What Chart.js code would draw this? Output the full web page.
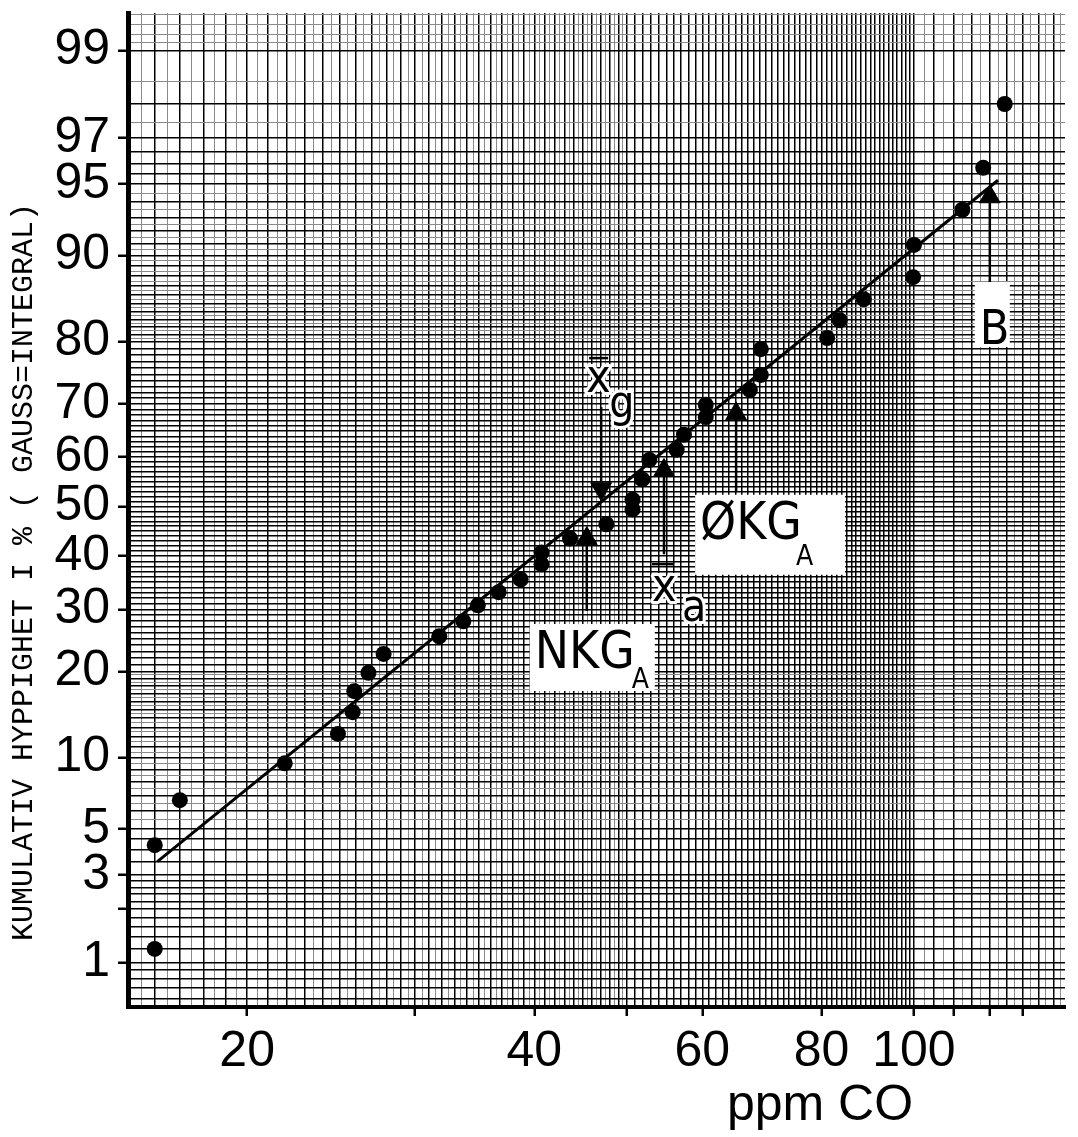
<!DOCTYPE html>
<html>
<head>
<meta charset="utf-8">
<script src="https://cdn.jsdelivr.net/npm/chart.js@4.4.1/dist/chart.umd.min.js"></script>
<style>
  html, body { margin: 0; padding: 0; background: #fff; }
  #wrap { width: 1078px; height: 1137px; }
</style>
</head>
<body>
<div id="wrap"><canvas id="chart"></canvas></div>
<script>
// uppmätta värden: ppm CO och kumulativ frekvens i %
const dotPpm = [16.0, 16.0, 17.0, 21.9, 24.9, 25.8, 25.9, 26.8, 27.8, 31.8,
  33.7, 34.9, 36.7, 38.7, 40.7, 40.7, 43.6, 47.6, 50.7, 50.7,
  51.9, 52.8, 56.4, 57.4, 60.5, 60.5, 67.3, 69.1, 69.1, 81.1,
  83.6, 88.6, 99.8, 100, 112.4, 118.2, 124.5];
const dotPct = [4.2, 1.2, 6.7, 9.5, 12.3, 14.7, 17.3, 19.8, 22.6, 25.4,
  27.9, 30.7, 33.1, 35.5, 38.4, 40.7, 43.5, 46.4, 51.4, 49.4,
  55.5, 59.4, 61.4, 64.3, 69.8, 67.6, 72.4, 74.9, 78.9, 80.5,
  82.9, 85.5, 87.9, 90.9, 93.5, 95.8, 98.0];

// anpassad linje
const fitPpm = [16.1, 122.5];
const fitPct = [3.5, 95.2];

// NKG_A, x̄g, x̄a, ØKG_A, B
const markerPpm = [45.4, 47.0, 54.7, 65.1, 120.1];
const markerPct = [43.5, 53.6, 57.3, 68.2, 94.3];
const markerTailPct = [29.7, 69.4, 40.4, 53.0, 87.4];
const markerDown = [false, true, false, false, false];

const xLabelTicks = [20, 40, 60, 80, 100];
const xTickMarks = [20, 30, 40, 50, 60, 80, 100, 110, 120, 130];
const yLabelTicks = [1, 3, 5, 10, 20, 30, 40, 50, 60, 70, 80, 90, 95, 97, 99];
const yTickMarks = [1, 2, 3, 5, 10, 20, 30, 40, 50, 60, 70, 80, 90, 95, 97, 99];

const yTitle = "KUMULATIV HYPPIGHET I % ( GAUSS=INTEGRAL)";
const xTitle = "ppm CO";

// millimeterpapperets linjer
function steps(a, b, s, dim) {
  const out = [];
  for (let v = a; v <= b + 1e-9; v += s) out.push({ v: +v.toFixed(2), dim: dim });
  return out;
}
const byValue = (p, q) => p.v - q.v;
const xGrid = [].concat(
  steps(16, 100, 1, false),
  steps(15.5, 49.5, 1, true),
  steps(105, 140, 5, false),
  steps(102.5, 142.5, 5, true)
).sort(byValue);
const yGrid = [].concat(
  steps(0.6, 1, 0.1, false),
  steps(1.2, 2.8, 0.2, false),
  steps(3, 4.5, 0.5, false),
  steps(5, 95, 1, false),
  steps(5.5, 19.5, 1, true),
  steps(80.5, 94.5, 1, true),
  steps(95.5, 96.5, 0.5, false),
  steps(97, 99, 1, false),
  [{ v: 97.5, dim: true }, { v: 98.5, dim: true }],
  steps(99.1, 99.4, 0.1, true)
).sort(byValue);

function probit(p) {
  const a = [-3.969683028665376e+01, 2.209460984245205e+02, -2.759285104469687e+02, 1.383577518672690e+02, -3.066479806614716e+01, 2.506628277459239e+00];
  const b = [-5.447609879822406e+01, 1.615858368580409e+02, -1.556989798598866e+02, 6.680131188771972e+01, -1.328068155288572e+01];
  const c = [-7.784894002430293e-03, -3.223964580411365e-01, -2.400758277161838e+00, -2.549732539343734e+00, 4.374664141464968e+00, 2.938163982698783e+00];
  const d = [7.784695709041462e-03, 3.224671290700398e-01, 2.445134137142996e+00, 3.754408661907416e+00];
  const pl = 0.02425;
  if (p < pl) {
    const q = Math.sqrt(-2 * Math.log(p));
    return (((((c[0] * q + c[1]) * q + c[2]) * q + c[3]) * q + c[4]) * q + c[5]) / ((((d[0] * q + d[1]) * q + d[2]) * q + d[3]) * q + 1);
  }
  if (p > 1 - pl) {
    const q = Math.sqrt(-2 * Math.log(1 - p));
    return -(((((c[0] * q + c[1]) * q + c[2]) * q + c[3]) * q + c[4]) * q + c[5]) / ((((d[0] * q + d[1]) * q + d[2]) * q + d[3]) * q + 1);
  }
  const q = p - 0.5, r = q * q;
  return (((((a[0] * r + a[1]) * r + a[2]) * r + a[3]) * r + a[4]) * r + a[5]) * q / (((((b[0] * r + b[1]) * r + b[2]) * r + b[3]) * r + b[4]) * r + 1);
}

function normCdf(z) {
  const t = 1 / (1 + 0.3275911 * Math.abs(z) / Math.SQRT2);
  const y = 1 - (((((1.061405429 * t - 1.453152027) * t) + 1.421413741) * t - 0.284496736) * t + 0.254829592) * t * Math.exp(-z * z / 2);
  return z >= 0 ? (1 + y) / 2 : (1 - y) / 2;
}

// sannolikhetsskala (Gauss)
class ProbitScale extends Chart.LinearScale {
  determineDataLimits() {
    this.min = this.options.min;
    this.max = this.options.max;
  }
  buildTicks() {
    return yGrid.map((g) => ({ value: g.v, dim: g.dim }));
  }
  configure() {
    super.configure();
    this._zLo = probit(this.min / 100);
    this._zHi = probit(this.max / 100);
  }
  getPixelForValue(v) {
    if (v === null || v === undefined) return NaN;
    return this.getPixelForDecimal((probit(v / 100) - this._zLo) / (this._zHi - this._zLo));
  }
  getValueForPixel(px) {
    return 100 * normCdf(this._zLo + this.getDecimalForPixel(px) * (this._zHi - this._zLo));
  }
}
ProbitScale.id = "probit";
ProbitScale.defaults = Chart.LinearScale.defaults;
Chart.register(ProbitScale);

const noteLayout = [
  { box: [-57, 13, 125, 67], parts: [{ t: "NKG", dx: -52, dy: 57, size: 51 }, { t: "A", dx: 45, dy: 77, size: 28 }] },
  { parts: [{ t: "x", dx: -15, dy: -15, size: 46 }, { t: "g", dx: 8, dy: 10, size: 44 }], bar: [-12, 7, -49] },
  { parts: [{ t: "x", dx: -12, dy: 47, size: 46 }, { t: "a", dx: 18, dy: 67, size: 44 }], bar: [-12, 10, 10] },
  { box: [-41, 3, 150, 80], parts: [{ t: "ØKG", dx: -36, dy: 47, size: 51 }, { t: "A", dx: 60, dy: 73, size: 28 }] },
  { box: [-15, 0, 35, 65], parts: [{ t: "B", dx: -10, dy: 62, size: 48 }] },
];
const noteFont = '"Liberation Sans Narrow", "DejaVu Sans Condensed", sans-serif';

const notesPlugin = {
  id: "notes",
  afterDatasetsDraw(chart) {
    const ctx = chart.ctx;
    const xs = chart.scales.x, ys = chart.scales.y;
    ctx.save();
    noteLayout.forEach((n, i) => {
      const ax = xs.getPixelForValue(markerPpm[i]);
      const ay = ys.getPixelForValue(markerTailPct[i]);
      if (n.box) {
        ctx.fillStyle = "#fff";
        ctx.fillRect(ax + n.box[0], ay + n.box[1], n.box[2], n.box[3]);
      }
      ctx.textAlign = "left";
      ctx.textBaseline = "alphabetic";
      n.parts.forEach((p) => {
        ctx.font = p.size + "px " + noteFont;
        if (!n.box) {
          ctx.strokeStyle = "#fff";
          ctx.lineWidth = 6;
          ctx.lineJoin = "round";
          ctx.strokeText(p.t, ax + p.dx, ay + p.dy);
        }
        ctx.fillStyle = "#000";
        ctx.fillText(p.t, ax + p.dx, ay + p.dy);
      });
      if (n.bar) {
        ctx.strokeStyle = "#000";
        ctx.lineWidth = 2.5;
        ctx.beginPath();
        ctx.moveTo(ax + n.bar[0], ay + n.bar[2]);
        ctx.lineTo(ax + n.bar[1], ay + n.bar[2]);
        ctx.stroke();
      }
    });
    ctx.restore();
  },
  afterDraw(chart) {
    const ctx = chart.ctx;
    ctx.save();
    ctx.fillStyle = "#000";
    ctx.font = '30px "Liberation Mono", monospace';
    ctx.textAlign = "center";
    ctx.textBaseline = "middle";
    ctx.translate(24, 572);
    ctx.rotate(-Math.PI / 2);
    ctx.fillText(yTitle, 0, 0);
    ctx.restore();
    ctx.save();
    ctx.fillStyle = "#000";
    ctx.font = '50px "Liberation Sans", sans-serif';
    ctx.textAlign = "center";
    ctx.textBaseline = "alphabetic";
    ctx.fillText(xTitle, 820, 1120);
    ctx.restore();
  },
};

const gridColor = (c) => (c.tick && c.tick.dim ? "#8a8a8a" : "#000");
const gridWidth = (c) => (c.tick && c.tick.dim ? 1 : 1.5);

new Chart(document.getElementById("chart"), {
  type: "scatter",
  data: {
    datasets: [
      {
        data: markerPpm.map((x, i) => ({ x: x, y: markerPct[i] })),
        pointStyle: "triangle",
        pointRotation: markerDown.map((d) => (d ? 180 : 0)),
        pointRadius: 12,
        backgroundColor: "#000",
        borderColor: "#000",
        borderWidth: 1,
      },
      {
        data: dotPpm.map((x, i) => ({ x: x, y: dotPct[i] })),
        pointRadius: 8,
        backgroundColor: "#000",
        borderWidth: 0,
      },
      ...markerPpm.map((x, i) => ({
        data: [{ x: x, y: markerPct[i] }, { x: x, y: markerTailPct[i] }],
        showLine: true,
        borderColor: "#000",
        borderWidth: 2.5,
        pointRadius: 0,
      })),
      {
        data: fitPpm.map((x, i) => ({ x: x, y: fitPct[i] })),
        showLine: true,
        borderColor: "#000",
        borderWidth: 3,
        pointRadius: 0,
      },
    ],
  },
  options: {
    animation: false,
    responsive: true,
    maintainAspectRatio: false,
    layout: { padding: { top: 10, right: 2, left: 0, bottom: 0 } },
    plugins: { legend: { display: false }, tooltip: { enabled: false } },
    scales: {
      x: {
        type: "logarithmic",
        min: 15,
        max: 144,
        afterBuildTicks: (s) => {
          s.ticks = xGrid.map((g) => ({ value: g.v, dim: g.dim }));
        },
        afterFit: (s) => {
          s.height = 130;
          s.paddingLeft = 0;
          s.paddingRight = 0;
        },
        border: { display: true, color: "#000", width: 4 },
        grid: {
          color: gridColor,
          lineWidth: gridWidth,
          tickLength: 9,
          tickWidth: 2.5,
          tickColor: (c) => (xTickMarks.includes(c.tick.value) ? "#000" : "rgba(0,0,0,0)"),
        },
        ticks: {
          autoSkip: false,
          maxRotation: 0,
          minRotation: 0,
          padding: 6,
          color: "#000",
          font: { family: '"Liberation Sans", sans-serif', size: 50 },
          callback: (v) => (xLabelTicks.includes(v) ? String(v) : ""),
        },
      },
      y: {
        type: "probit",
        min: 0.533,
        max: 99.41,
        afterFit: (s) => {
          s.width = 128;
          s.paddingTop = 0;
          s.paddingBottom = 0;
        },
        border: { display: true, color: "#000", width: 5 },
        grid: {
          color: gridColor,
          lineWidth: gridWidth,
          tickLength: 10,
          tickWidth: 2.5,
          tickColor: (c) => (yTickMarks.includes(c.tick.value) ? "#000" : "rgba(0,0,0,0)"),
        },
        ticks: {
          autoSkip: false,
          padding: 8,
          color: "#000",
          font: { family: '"Liberation Sans", sans-serif', size: 50 },
          callback: (v) => (yLabelTicks.includes(v) ? String(v) : ""),
        },
      },
    },
  },
  plugins: [notesPlugin],
});
</script>
</body>
</html>
